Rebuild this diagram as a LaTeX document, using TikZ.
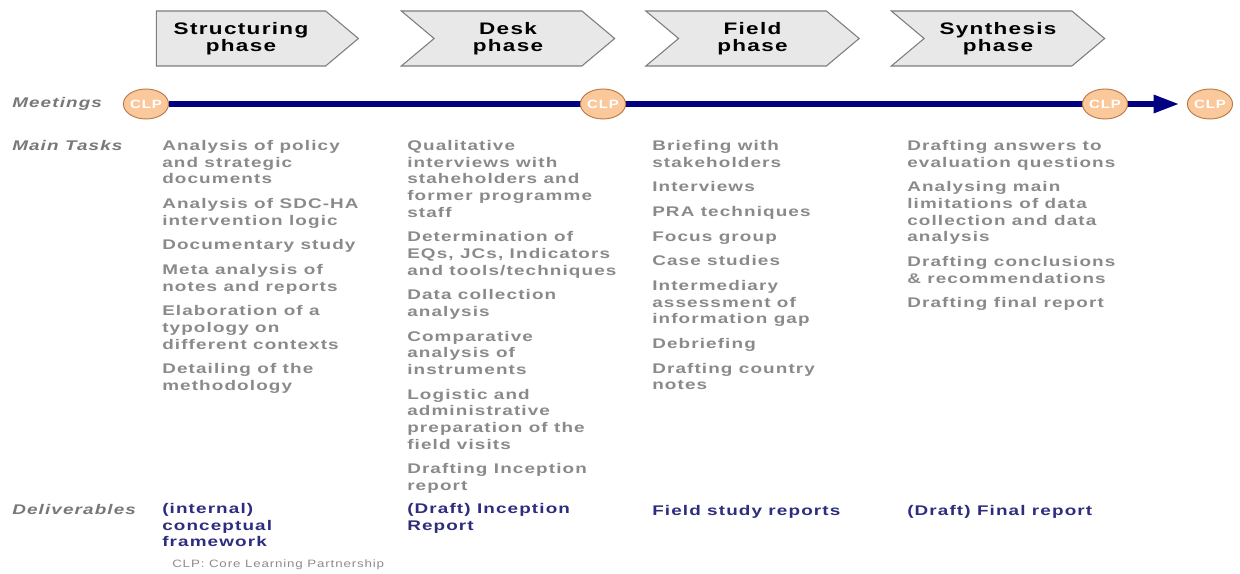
\documentclass[tikz,border=0pt]{standalone}
\usepackage{fontspec}
\setmainfont{Liberation Sans}
\newfontfamily\wideface[FakeStretch=1.35,LetterSpace=8]{Liberation Sans}
\newfontfamily\legendface[FakeStretch=1.25,LetterSpace=8]{Liberation Sans}
\usepackage{tikz}
\usetikzlibrary{shapes.symbols,shapes.geometric,arrows.meta,backgrounds}
\definecolor{phasefill}{RGB}{232,232,232}
\definecolor{phaseline}{RGB}{125,125,125}
\definecolor{taskgray}{RGB}{138,138,138}
\definecolor{labelgray}{RGB}{120,120,120}
\definecolor{delivblue}{RGB}{45,45,125}
\definecolor{meetblue}{RGB}{0,0,128}
\definecolor{clpfill}{RGB}{250,200,155}
\definecolor{clpline}{RGB}{185,120,70}
\tikzset{
	phase/.style={shape=signal, signal pointer angle=80, fill=phasefill, draw=phaseline, line width=0.8pt,
		minimum height=41.25pt, inner sep=0pt, align=center,
		font=\wideface\bfseries\fontsize{12.5pt}{13pt}\selectfont},
	clp/.style={ellipse, fill=clpfill, draw=clpline, line width=0.7pt, minimum width=31.5pt, minimum height=22.5pt,
		inner sep=0pt, text=white, font=\legendface\bfseries\fontsize{9pt}{9pt}\selectfont},
	rowlabel/.style={anchor=base west, inner sep=0pt, text=labelgray, font=\wideface\bfseries\itshape\fontsize{10.5pt}{12.5pt}\selectfont},
	tasks/.style={anchor=north west, inner sep=0pt, align=left, text=taskgray,
		font=\wideface\bfseries\fontsize{10.5pt}{12.5pt}\selectfont, execute at begin node=\rule{0pt}{9pt}},
	deliv/.style={tasks, text=delivblue},
	meetline/.style={line width=3.8pt, draw=meetblue, -{Triangle[length=19pt,width=13pt]}}
}

\begin{document}
\begin{tikzpicture}[x=0.75pt, y=-0.75pt]
			%%%%% START %%%%%
			\useasboundingbox (0, 0) rectangle (1240, 574);
			
			% phases
			\node[phase, signal to=east, minimum width=151.5pt] (structuring) at (241, 38.5) {Structuring\\phase};
			\node[phase, signal from=west, signal to=east, minimum width=160pt] (desk) at (508, 38.5) {Desk\\phase};
			\node[phase, signal from=west, signal to=east, minimum width=160pt] (field) at (752.5, 38.5) {Field\\phase};
			\node[phase, signal from=west, signal to=east, minimum width=160pt] (synthesis) at (998, 38.5) {Synthesis\\phase};
			
			% meetings
			\node[rowlabel] (meetings) at (12, 108) {Meetings};
			\node[clp] (clp1) at (146, 104) {CLP};
			\node[clp] (clp2) at (603, 104) {CLP};
			\node[clp] (clp3) at (1105, 104) {CLP};
			\node[clp] (clp4) at (1210, 104) {CLP};
			\begin{scope}[on background layer]
				\draw[meetline, shorten >=6pt] (clp1) -- (clp4);
			\end{scope}
			
			% main tasks
			\node[rowlabel] (maintasks) at (12, 151) {Main Tasks};
			\node[tasks] (tasks1) at (162, 140) {Analysis of policy\\and strategic\\documents\\[6pt]
				Analysis of SDC-HA\\intervention logic\\[6pt]
				Documentary study\\[6pt]
				Meta analysis of\\notes and reports\\[6pt]
				Elaboration of a\\typology on\\different contexts\\[6pt]
				Detailing of the\\methodology};
			\node[tasks] (tasks2) at (407, 140) {Qualitative\\interviews with\\staheholders and\\former programme\\staff\\[6pt]
				Determination of\\EQs, JCs, Indicators\\and tools/techniques\\[6pt]
				Data collection\\analysis\\[6pt]
				Comparative\\analysis of\\instruments\\[6pt]
				Logistic and\\administrative\\preparation of the\\field visits\\[6pt]
				Drafting Inception\\report};
			\node[tasks] (tasks3) at (652, 140) {Briefing with\\stakeholders\\[6pt]
				Interviews\\[6pt]
				PRA techniques\\[6pt]
				Focus group\\[6pt]
				Case studies\\[6pt]
				Intermediary\\assessment of\\information gap\\[6pt]
				Debriefing\\[6pt]
				Drafting country\\notes};
			\node[tasks] (tasks4) at (907, 140) {Drafting answers to\\evaluation questions\\[6pt]
				Analysing main\\limitations of data\\collection and data\\analysis\\[6pt]
				Drafting conclusions\\\& recommendations\\[6pt]
				Drafting final report};
			
			% deliverables
			\node[rowlabel] (deliverables) at (12, 514) {Deliverables};
			\node[deliv] (deliv1) at (162, 503) {(internal)\\conceptual\\framework};
			\node[deliv] (deliv2) at (407, 503) {(Draft) Inception\\Report};
			\node[deliv] (deliv3) at (652, 503) {Field study reports};
			\node[deliv] (deliv4) at (907, 503) {(Draft) Final report};
			
			\node[anchor=base west, inner sep=0pt, text=black!45, font=\legendface\fontsize{8pt}{10pt}\selectfont] (legend) at (172, 567) {CLP: Core Learning Partnership};
			%%%%% END %%%%%
		\end{tikzpicture}
\end{document}
